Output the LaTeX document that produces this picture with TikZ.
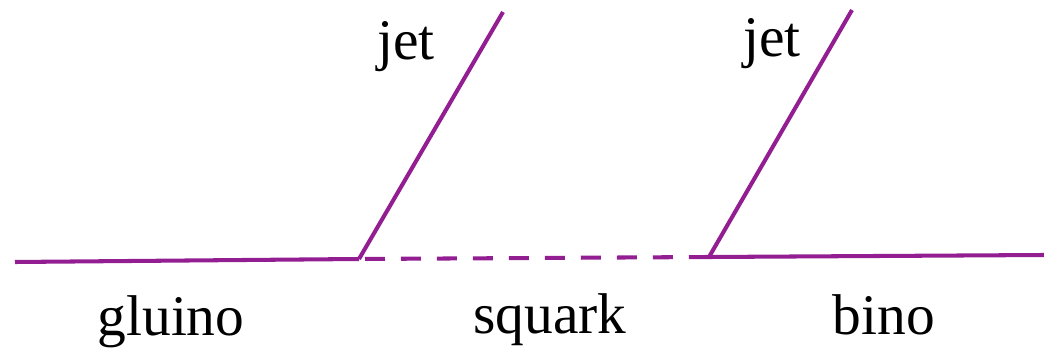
\documentclass[tikz,border=0pt]{standalone}
\usepackage{fontspec}
\setmainfont{Liberation Serif}
\usepackage{tikz}

\definecolor{lineviolet}{RGB}{146,30,146}

\begin{document}
\begin{tikzpicture}[
	x=0.02cm, y=-0.02cm,
	every node/.style={font=\fontsize{32.7}{39}\selectfont, anchor=base, inner sep=0pt},
	particle/.style={draw=lineviolet, line width=2.3pt},
	sparticle/.style={particle, dash pattern=on 0.4cm off 0.32cm, dash phase=-0.12cm},
	line cap=butt
	]
	
	\useasboundingbox (0,0) rectangle (1044,351);
	
	% vertices and free ends
	\coordinate (vtxA) at (359,259);
	\coordinate (vtxB) at (709,257);
	\coordinate (gin) at (15,262);
	\coordinate (bout) at (1044,255);
	\coordinate (jetA) at (503,12);
	\coordinate (jetB) at (852,10);
	
	% decay chain
	\draw[particle] (gin) -- (vtxA);
	\draw[sparticle] (vtxA) -- (vtxB);
	\draw[particle] (vtxB) -- (bout);
	\draw[particle] (vtxA) -- (jetA);
	\draw[particle] (vtxB) -- (jetB);
	
	% labels
	\node (lgluino) at (171,335) {gluino};
	\node (lsquark) at (550,333) {squark};
	\node (lbino) at (884,334) {bino};
	\node (ljetA) at (406,60) {jet};
	\node (ljetB) at (772,57) {jet};
	
\end{tikzpicture}
\end{document}
